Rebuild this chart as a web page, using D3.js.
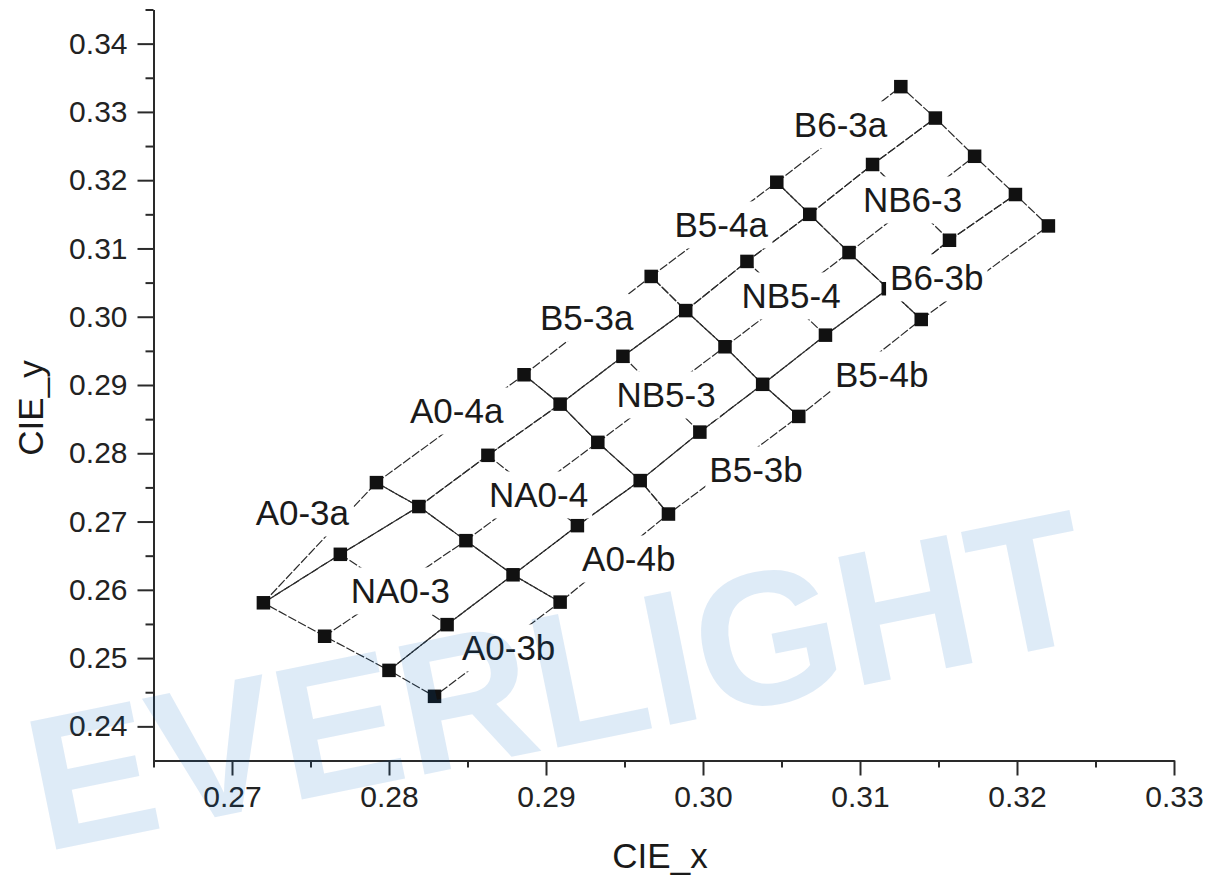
<!DOCTYPE html>
<html>
<head>
<meta charset="utf-8">
<script src="https://cdn.jsdelivr.net/npm/d3@7"></script>
<style>
  html, body { margin: 0; padding: 0; background: #fff; }
  svg { display: block; }
</style>
</head>
<body>
<div id="chart"></div>
<script>
// ---- chromaticity bin grid (CIE 1931 x, y) ----
const binGroups = ["A0-3", "A0-4", "B5-3", "B5-4", "B6-3"];

// outer edge of the "a" bins, one corner per group boundary
const topX = [0.2720, 0.2792, 0.2886, 0.2967, 0.3047, 0.3126];
const topY = [0.2581, 0.2757, 0.2915, 0.3059, 0.3197, 0.3337];

// edge between "a" and "N" bins: corners plus edge midpoints
const anX = [0.2720, 0.2769, 0.2819, 0.2863, 0.2909, 0.2949, 0.2989, 0.3028, 0.3068, 0.3108, 0.3148];
const anY = [0.2581, 0.2652, 0.2722, 0.2797, 0.2872, 0.2942, 0.3009, 0.3081, 0.3150, 0.3223, 0.3291];

// midpoints of the cross edges of the "N" bins
const midX = [0.2759, 0.2849, 0.2933, 0.3014, 0.3093, 0.3173];
const midY = [0.2532, 0.2672, 0.2816, 0.2956, 0.3094, 0.3235];

// edge between "N" and "b" bins: corners plus edge midpoints
const nbX = [0.2800, 0.2837, 0.2879, 0.2920, 0.2960, 0.2998, 0.3038, 0.3078, 0.3118, 0.3157, 0.3199];
const nbY = [0.2482, 0.2549, 0.2622, 0.2694, 0.2760, 0.2831, 0.2901, 0.2973, 0.3041, 0.3112, 0.3179];

// outer edge of the "b" bins
const botX = [0.2829, 0.2909, 0.2978, 0.3061, 0.3139, 0.3220];
const botY = [0.2444, 0.2582, 0.2711, 0.2854, 0.2996, 0.3133];

// bin names and where each name sits (CIE units)
const labelText = ["A0-3a", "A0-4a", "B5-3a", "B5-4a", "B6-3a",
                   "NA0-3", "NA0-4", "NB5-3", "NB5-4", "NB6-3",
                   "A0-3b", "A0-4b", "B5-3b", "B5-4b", "B6-3b"];
const labelX = [0.27448, 0.28431, 0.29259, 0.30116, 0.30876,
                0.28072, 0.28953, 0.29765, 0.30561, 0.31335,
                0.28762, 0.29527, 0.30338, 0.31138, 0.31489];
const labelY = [0.27127, 0.28621, 0.29984, 0.31346, 0.32811,
                0.25985, 0.27391, 0.28856, 0.30306, 0.31712,
                0.25150, 0.26453, 0.27757, 0.29149, 0.30570];

const xTicks = [0.27, 0.28, 0.29, 0.30, 0.31, 0.32, 0.33];
const xMinor = [0.265, 0.275, 0.285, 0.295, 0.305, 0.315, 0.325];
const yTicks = [0.24, 0.25, 0.26, 0.27, 0.28, 0.29, 0.30, 0.31, 0.32, 0.33, 0.34];
const yMinor = [0.245, 0.255, 0.265, 0.275, 0.285, 0.295, 0.305, 0.315, 0.325, 0.335, 0.345];

(function draw() {
  const W = 1211, H = 876;
  const FONT = "'Liberation Sans', Arial, Helvetica, sans-serif";
  const INK = "#1a1a1a";

  const x = d3.scaleLinear().domain([0.265, 0.33]).range([153.5, 1174]);
  const y = d3.scaleLinear().domain([0.235, 0.345]).range([760.5, 9.5]);

  const svg = d3.select("#chart").append("svg")
    .attr("width", W).attr("height", H)
    .attr("viewBox", `0 0 ${W} ${H}`)
    .style("font-family", FONT);

  svg.append("rect").attr("width", W).attr("height", H).attr("fill", "#fff");

  // ---- axes ----
  const fmt = d3.format(".2f");

  function styleAxis(g) {
    g.select(".domain").attr("stroke", "#2a2a2a").attr("stroke-width", 2);
    g.selectAll(".tick line").attr("stroke", "#2a2a2a").attr("stroke-width", 2);
    g.selectAll(".tick text").attr("fill", "#222").style("font-size", "30px").style("font-family", FONT);
  }

  const gx = svg.append("g").attr("transform", `translate(0,${y.range()[0]})`);
  gx.append("g").call(d3.axisBottom(x).tickValues(xMinor).tickSize(7).tickFormat("").tickSizeOuter(0)).call(styleAxis);
  gx.append("g").call(d3.axisBottom(x).tickValues(xTicks).tickSize(15).tickPadding(10).tickFormat(fmt).tickSizeOuter(0)).call(styleAxis);

  const gy = svg.append("g").attr("transform", `translate(${x.range()[0]},0)`);
  gy.append("g").call(d3.axisLeft(y).tickValues(yMinor).tickSize(8).tickFormat("").tickSizeOuter(0)).call(styleAxis);
  gy.append("g").call(d3.axisLeft(y).tickValues(yTicks).tickSize(16).tickPadding(10).tickFormat(fmt).tickSizeOuter(0)).call(styleAxis);

  // axis titles
  svg.append("text")
    .attr("x", 660).attr("y", 868)
    .attr("text-anchor", "middle")
    .attr("fill", INK).style("font-size", "35px")
    .text("CIE_x");

  svg.append("text")
    .attr("transform", "translate(43,408) rotate(-90)")
    .attr("text-anchor", "middle")
    .attr("fill", INK).style("font-size", "35px")
    .text("CIE_y");

  // ---- bin outlines ----
  const P = (xs, ys, i) => [xs[i], ys[i]];
  const ptTop = i => P(topX, topY, i);
  const ptAN  = i => P(anX, anY, i);
  const ptMid = i => P(midX, midY, i);
  const ptNB  = i => P(nbX, nbY, i);
  const ptBot = i => P(botX, botY, i);

  const paths = [];
  binGroups.forEach((name, g) => {
    const k = 2 * g;
    // "a" bin
    paths.push([ptTop(g), ptTop(g + 1), ptAN(k + 2), ptAN(k + 1), ptAN(k), ptTop(g)]);
    // "N" bin outline and its two centre lines
    paths.push([ptAN(k), ptAN(k + 1), ptAN(k + 2), ptMid(g + 1), ptNB(k + 2),
                ptNB(k + 1), ptNB(k), ptMid(g), ptAN(k)]);
    paths.push([ptMid(g), ptMid(g + 1)]);
    paths.push([ptAN(k + 1), ptNB(k + 1)]);
    // "b" bin
    paths.push([ptNB(k), ptNB(k + 1), ptNB(k + 2), ptBot(g + 1), ptBot(g), ptNB(k)]);
  });

  const line = d3.line().x(d => x(d[0])).y(d => y(d[1]));

  svg.append("g")
    .selectAll("path").data(paths).join("path")
    .attr("d", line)
    .attr("fill", "none")
    .attr("stroke", "#2b2b2b")
    .attr("stroke-width", 1.2)
    .attr("stroke-dasharray", "9,2")
    .attr("stroke-linejoin", "round");

  // ---- corner markers ----
  const pts = [];
  const seen = new Set();
  [[topX, topY], [anX, anY], [midX, midY], [nbX, nbY], [botX, botY]].forEach(([xs, ys]) => {
    xs.forEach((v, i) => {
      const key = v.toFixed(4) + "," + ys[i].toFixed(4);
      if (!seen.has(key)) { seen.add(key); pts.push([v, ys[i]]); }
    });
  });

  const S = 13.5;
  svg.append("g")
    .selectAll("rect").data(pts).join("rect")
    .attr("x", d => x(d[0]) - S / 2)
    .attr("y", d => y(d[1]) - S / 2)
    .attr("width", S).attr("height", S)
    .attr("fill", "#111");

  // ---- bin names on white boxes ----
  const lg = svg.append("g");
  labelText.forEach((t, i) => {
    const g = lg.append("g");
    const box = g.append("rect").attr("fill", "#fff");
    const txt = g.append("text")
      .attr("x", x(labelX[i]))
      .attr("y", y(labelY[i]))
      .attr("dy", "0.36em")
      .attr("text-anchor", "middle")
      .attr("fill", INK)
      .style("font-size", "35px")
      .text(t);
    const b = txt.node().getBBox();
    const pad = 4;
    box.attr("x", b.x - pad).attr("y", b.y - pad)
       .attr("width", b.width + 2 * pad).attr("height", b.height + 2 * pad);
  });

  // ---- translucent company mark across the plot ----
  svg.append("text")
    .attr("transform", "translate(44,852) rotate(-11.5)")
    .attr("fill", "rgb(0,100,195)")
    .attr("fill-opacity", 0.13)
    .style("font-size", "190px")
    .style("font-weight", "bold")
    .attr("textLength", 1075)
    .attr("lengthAdjust", "spacingAndGlyphs")
    .text("EVERLIGHT");
})();
</script>
</body>
</html>
